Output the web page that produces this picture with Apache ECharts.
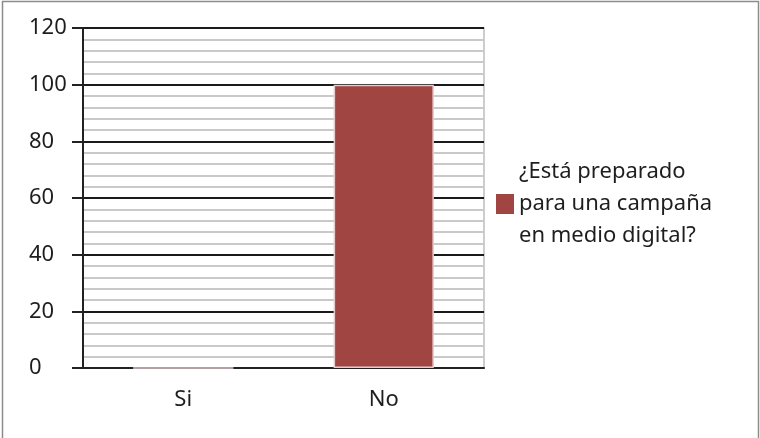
<!DOCTYPE html>
<html>
<head>
<meta charset="utf-8">
<script src="https://cdn.jsdelivr.net/npm/echarts@6/dist/echarts.min.js"></script>
<style>
  html, body { margin: 0; padding: 0; background: #fff; }
  #chart { width: 760px; height: 438px; }
</style>
</head>
<body>
<div id="chart"></div>
<script>
// Survey answers and counts
const categories = ['Si', 'No'];
const seriesName = '¿Está preparado\npara una campaña\nen medio digital?';
const values = [0, 100];
const yTicks = [0, 20, 40, 60, 80, 100, 120];

const FONT = 'Noto Sans';
const chart = echarts.init(document.getElementById('chart'), null, { renderer: 'canvas' });

chart.setOption({
  animation: false,
  backgroundColor: '#fff',
  textStyle: { fontFamily: FONT },
  graphic: [{
    type: 'rect',
    shape: { x: 2.5, y: 1.5, width: 756, height: 445 },
    style: { fill: 'none', stroke: '#8c8c8c', lineWidth: 1.5 },
    z: 100
  }],
  grid: {
    left: 83, top: 28, right: 276, bottom: 70,
    show: true, borderColor: '#bdbdbd', borderWidth: 1.5, backgroundColor: 'transparent'
  },
  legend: {
    data: [seriesName],
    orient: 'vertical',
    left: 496,
    top: 156,
    padding: 0,
    itemWidth: 18,
    itemHeight: 20,
    itemGap: 0,
    icon: 'rect',
    itemStyle: { borderWidth: 0 },
    textStyle: { fontFamily: FONT, fontSize: 22, color: '#1e1e1e', lineHeight: 32 },
    selectedMode: false
  },
  xAxis: {
    type: 'category',
    data: categories,
    axisLine: { lineStyle: { color: '#222', width: 2 } },
    axisTick: { show: false },
    axisLabel: { color: '#1e1e1e', fontSize: 22, fontFamily: FONT, margin: 21 },
    splitLine: { show: false }
  },
  yAxis: {
    type: 'value',
    min: yTicks[0],
    max: yTicks[yTicks.length - 1],
    interval: 20,
    axisLine: { show: true, lineStyle: { color: '#222', width: 2 } },
    axisTick: { show: true, length: 11, lineStyle: { color: '#222', width: 2 } },
    axisLabel: { color: '#1e1e1e', fontSize: 22, fontFamily: FONT, align: 'left', margin: 54 },
    splitLine: { show: true, lineStyle: { color: '#1a1a1a', width: 2 } },
    minorTick: { show: false, splitNumber: 5 },
    minorSplitLine: { show: true, lineStyle: { color: '#c9c9c9', width: 2 } }
  },
  series: [{
    name: seriesName,
    type: 'bar',
    data: values,
    barWidth: '50%',
    itemStyle: { color: '#a04542', borderColor: '#e6cccc', borderWidth: 1.5 },
    z: 3
  }]
});
</script>
</body>
</html>
